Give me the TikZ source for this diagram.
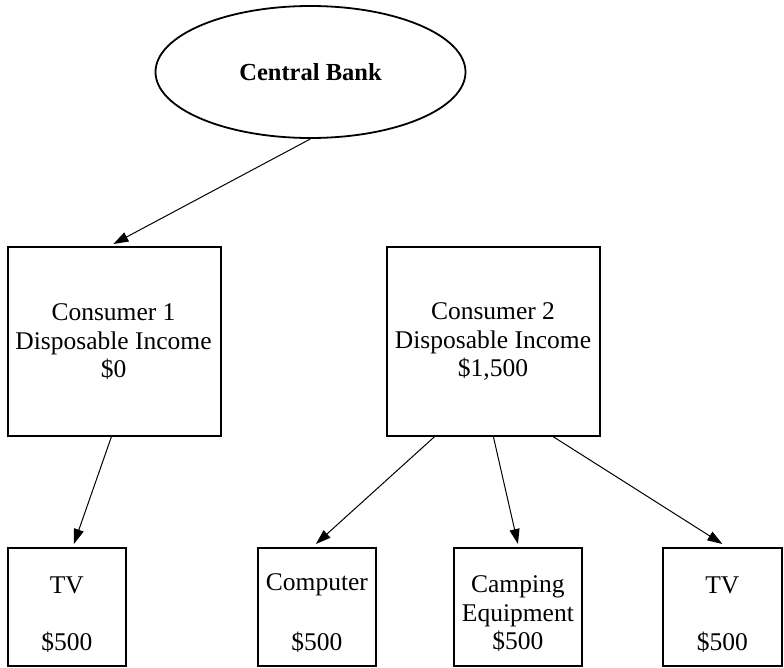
\documentclass[tikz,border=0pt]{standalone}
\usepackage{fontspec}
\setmainfont{Liberation Serif}
\usetikzlibrary{shapes.geometric,arrows.meta,calc}
\begin{document}
\begin{tikzpicture}[x=1pt,y=-1pt,
  txt/.style={font=\fontsize{25.5}{28.5}\selectfont, align=center, inner sep=0pt},
  bigbox/.style={draw, line width=1.8pt, minimum width=213pt, minimum height=189pt, inner sep=0pt, anchor=north west},
  smallbox/.style={draw, line width=1.8pt, minimum height=118pt, inner sep=0pt, anchor=north west},
  oval/.style={draw, ellipse, line width=1.8pt, minimum width=310pt, minimum height=132pt, inner sep=0pt},
  edge/.style={line width=1pt, -{Triangle[length=15pt,width=10pt]}}]
\useasboundingbox (0,0) rectangle (784,667);
\node[oval, font=\fontsize{24.5}{28.5}\selectfont] (cb) at (310.5,72) {\textbf{Central Bank}};
\node[bigbox] (c1) at (7,246) {};
\node[txt] at (113.5,342) {Consumer 1\\Disposable Income\\\$0};
\node[bigbox] (c2) at (386,246) {};
\node[txt] at (493,342) {Consumer 2\\Disposable Income\\\$1,500};
\node[smallbox, minimum width=118pt] (tv1) at (7,547) {};
\node[smallbox, minimum width=118pt] (comp) at (257,547) {};
\node[smallbox, minimum width=128pt] (camp) at (453,547) {};
\node[smallbox, minimum width=119pt] (tv2) at (662,547) {};
\node[txt] at (tv1.center |- 0,585) {TV};
\node[txt] at (tv1.center |- 0,642) {\$500};
\node[txt] at (comp.center |- 0,585) {Computer};
\node[txt] at (comp.center |- 0,642) {\$500};
\node[txt] at (camp.center |- 0,614) {Camping\\Equipment\\\$500};
\node[txt] at (tv2.center |- 0,585) {TV};
\node[txt] at (tv2.center |- 0,642) {\$500};
\draw[edge] (cb.south) -- ($(c1.north)+(-1,-2)$);
\draw[edge] ($(c1.south)+(-3,0)$) -- ($(tv1.north)+(7,-3)$);
\draw[edge] ($(c2.south)+(-59,0)$) -- ($(comp.north)+(-1,-3)$);
\draw[edge] (c2.south) -- ($(camp.north)+(0,-3)$);
\draw[edge] ($(c2.south)+(60,0)$) -- ($(tv2.north)+(0,-3)$);
\end{tikzpicture}
\end{document}
